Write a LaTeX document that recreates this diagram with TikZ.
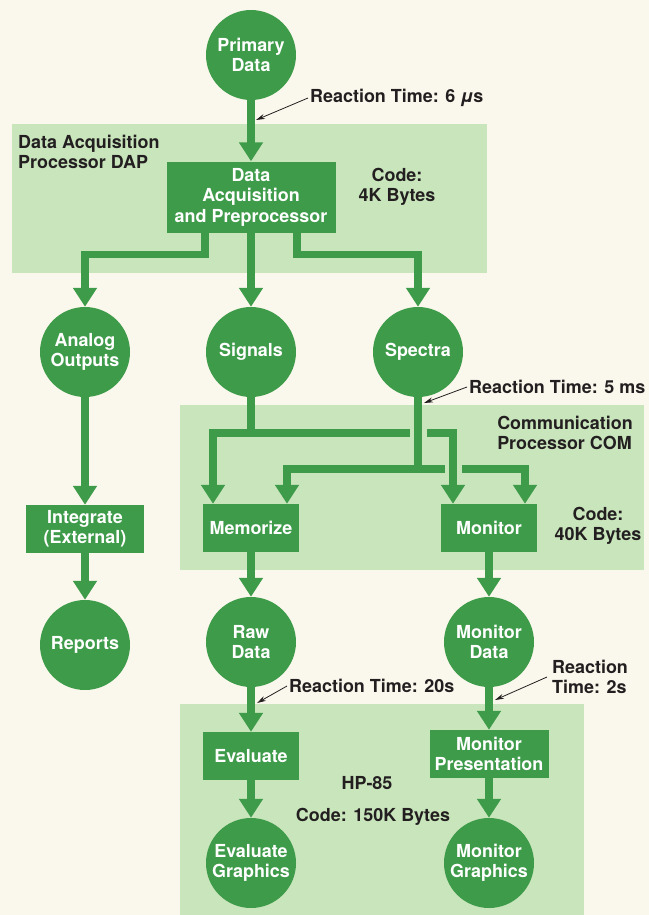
\documentclass[tikz,border=0pt]{standalone}
\usepackage{fontspec}
\setmainfont{TeX Gyre Heros}
\usetikzlibrary{arrows.meta,calc}
\definecolor{paper}{HTML}{FAF8EC}
\definecolor{panel}{HTML}{C8E5BC}
\definecolor{leaf}{HTML}{3E9B4A}
\definecolor{ink}{HTML}{231F20}

\begin{document}
\begin{tikzpicture}[x=1bp,y=-1bp,
        font=\fontsize{18}{20.5}\selectfont\bfseries,
        datum/.style={circle,fill=leaf,text=white,minimum size=90bp,inner sep=0pt,align=center},
        procbox/.style={rectangle,fill=leaf,text=white,minimum height=48bp,inner sep=2bp,align=center},
        note/.style={text=ink,inner sep=0pt,align=left},
        flow/.style={draw=leaf,line width=7.5bp,-{Triangle[width=23bp,length=19bp]}},
        wire/.style={draw=leaf,line width=7.5bp},
        gap/.style={draw=panel,line width=17bp},
        pointer/.style={draw=ink,line width=0.8bp,-{Stealth[length=9bp,width=5bp]}}]
    \useasboundingbox (0,0) rectangle (649,915);
    \fill[paper] (0,0) rectangle (649,915);
    % processor panels
    \fill[panel] (12,124) rectangle (487,273);
    \fill[panel] (180,405) rectangle (644,570);
    \fill[panel] (180,704) rectangle (584,915);
    % panel captions
    \node[note,anchor=west] (daptext) at (18,152) {Data Acquisition\\Processor DAP};
    \node[note,align=center] (dapcode) at (397,187) {Code:\\4K Bytes};
    \node[note] (comtext) at (565,433) {Communication\\Processor COM};
    \node[note,align=center] (comcode) at (598,526) {Code:\\40K Bytes};
    \node[note] (hptext) at (367,783) {HP-85};
    \node[note] (hpcode) at (373,817) {Code: 150K Bytes};
    % data and processes
    \node[datum] (primary) at (251,55) {Primary\\Data};
    \node[procbox,minimum width=169bp,minimum height=71bp] (dap) at (251,197) {Data\\Acquisition\\and Preprocessor};
    \node[datum] (analog) at (85,352) {Analog\\Outputs};
    \node[datum] (signals) at (251,352) {Signals};
    \node[datum] (spectra) at (418,352) {Spectra};
    \node[procbox,minimum width=117bp] (integrate) at (85,529) {Integrate\\(External)};
    \node[datum] (reports) at (85,645) {Reports};
    \node[procbox,minimum width=96bp] (memorize) at (251,528) {Memorize};
    \node[procbox,minimum width=96bp] (monitor) at (489,528) {Monitor};
    \node[datum] (rawdata) at (251,642) {Raw\\Data};
    \node[datum] (mondata) at (489,642) {Monitor\\Data};
    \node[procbox,minimum width=96bp] (evaluate) at (251,756) {Evaluate};
    \node[procbox,minimum width=119bp] (monpres) at (489,754) {Monitor\\Presentation};
    \node[datum] (evalgfx) at (251,863) {Evaluate\\Graphics};
    \node[datum] (mongfx) at (489,863) {Monitor\\Graphics};
    % reaction times
    \node[note,anchor=west] (rt6) at (310,98) {Reaction Time: 6 \textit{μ}s};
    \node[note,anchor=west] (rt5) at (469,387) {Reaction Time: 5 ms};
    \node[note,anchor=west] (rt20) at (289,686) {Reaction Time: 20s};
    \node[note,anchor=west] (rt2) at (552,677) {Reaction\\Time: 2s};
    % acquisition
    \draw[flow] (primary) -- (dap);
    \draw[flow] ([xshift=-46bp]dap.south) -- ++(0,22) -| (analog.north);
    \draw[flow] (dap) -- (signals);
    \draw[flow] ([xshift=46bp]dap.south) -- ++(0,22) -| (spectra.north);
    \draw[flow] (analog) -- (integrate);
    \draw[flow] (integrate) -- (reports);
    % communication
    \coordinate (sigjoin) at (251,433);
    \coordinate (spejoin) at (418,469);
    \draw[flow] (signals.south) -- (sigjoin) -| ([xshift=-38bp]memorize.north);
    \draw[flow] (sigjoin) -| ([xshift=-36bp]monitor.north);
    \coordinate (crossA) at (spejoin |- sigjoin);
    \draw[gap] ($(crossA)+(0,-12)$) -- ($(crossA)+(0,12)$);
    \draw[flow] (spectra.south) -- (spejoin) -| ([xshift=36bp]memorize.north);
    \draw[flow] (spejoin) -| ([xshift=36bp]monitor.north);
    \coordinate (crossB) at ([xshift=-36bp]monitor.north |- spejoin);
    \draw[gap] ($(crossB)+(0,-8)$) -- ($(crossB)+(0,8)$);
    \draw[wire] ($(crossB)+(0,-14)$) -- ($(crossB)+(0,14)$);
    \draw[flow] (memorize) -- (rawdata);
    \draw[flow] (monitor) -- (mondata);
    % HP-85
    \draw[flow] (rawdata) -- (evaluate);
    \draw[flow] (evaluate) -- (evalgfx);
    \draw[flow] (mondata) -- (monpres);
    \draw[flow] (monpres) -- (mongfx);
    % pointers
    \coordinate (at6) at (256,120);
    \coordinate (at5) at (424,403);
    \coordinate (at20) at (257,703);
    \coordinate (at2) at (495,700);
    \draw[pointer] ([xshift=-2bp]rt6.west) -- (at6);
    \draw[pointer] ([xshift=-2bp]rt5.west) -- (at5);
    \draw[pointer] ([xshift=-2bp]rt20.west) -- (at20);
    \draw[pointer] ([xshift=-5bp]rt2.west) -- (at2);
\end{tikzpicture}
\end{document}
